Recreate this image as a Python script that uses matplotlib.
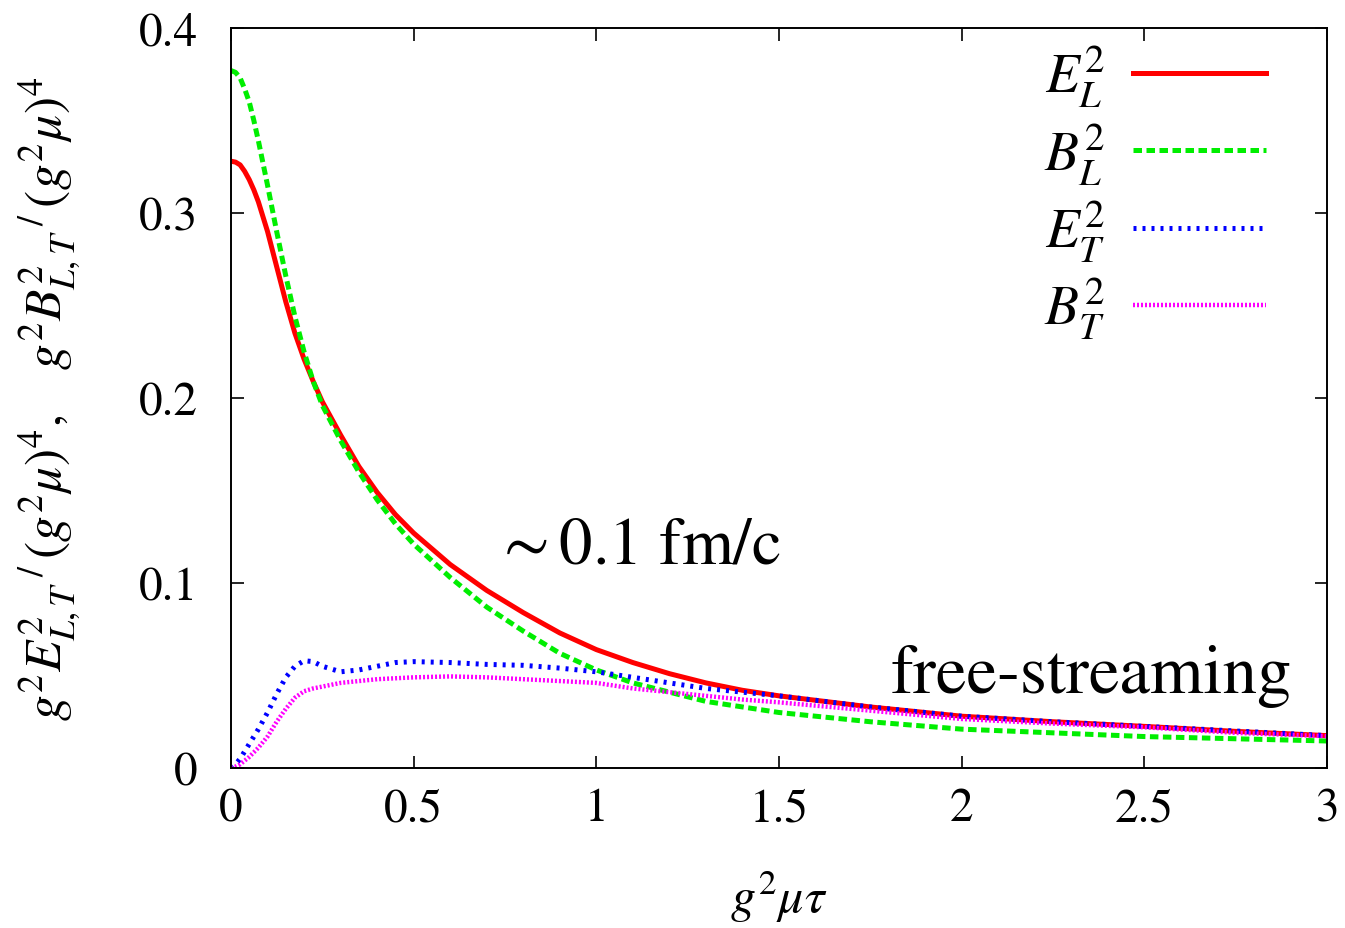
import numpy as np
import matplotlib
matplotlib.use('Agg')
import matplotlib.pyplot as plt
from matplotlib.ticker import FormatStrFormatter, MultipleLocator

plt.rcParams['font.family'] = ['STIXGeneral', 'Liberation Serif', 'DejaVu Serif']
plt.rcParams['mathtext.fontset'] = 'stix'

# g^2 mu tau
tau = [0, 0.0125, 0.025, 0.0375, 0.05, 0.0625, 0.075, 0.0875, 0.1, 0.125, 0.15, 0.175,
       0.2, 0.225, 0.25, 0.3, 0.35, 0.4, 0.45, 0.5, 0.6, 0.7, 0.8, 0.9, 1.0, 1.1, 1.2,
       1.3, 1.4, 1.5, 1.75, 2.0, 2.25, 2.5, 2.75, 3.0]
E_L = [0.328, 0.3275, 0.326, 0.3225, 0.318, 0.3125, 0.306, 0.298, 0.290, 0.271, 0.252,
       0.235, 0.221, 0.209, 0.198, 0.180, 0.163, 0.149, 0.137, 0.127, 0.110, 0.096,
       0.084, 0.073, 0.064, 0.057, 0.051, 0.046, 0.042, 0.039, 0.033, 0.028, 0.025,
       0.0225, 0.0198, 0.0175]
B_L = [0.377, 0.376, 0.373, 0.367, 0.360, 0.350, 0.339, 0.327, 0.315, 0.290, 0.266,
       0.244, 0.225, 0.209, 0.196, 0.177, 0.160, 0.145, 0.132, 0.121, 0.103, 0.087,
       0.074, 0.062, 0.053, 0.046, 0.041, 0.036, 0.033, 0.030, 0.025, 0.021, 0.019,
       0.017, 0.0158, 0.0146]
E_T = [0.0, 0.002, 0.005, 0.009, 0.013, 0.017, 0.021, 0.0255, 0.030, 0.040, 0.049,
       0.055, 0.058, 0.0575, 0.055, 0.052, 0.053, 0.055, 0.057, 0.0575, 0.057, 0.056,
       0.0555, 0.054, 0.052, 0.049, 0.046, 0.043, 0.041, 0.039, 0.033, 0.028, 0.025,
       0.0225, 0.020, 0.0175]
B_T = [0.0, 0.0008, 0.002, 0.004, 0.006, 0.0085, 0.011, 0.014, 0.017, 0.025, 0.032,
       0.038, 0.0415, 0.043, 0.044, 0.046, 0.047, 0.048, 0.0485, 0.049, 0.0495, 0.049,
       0.048, 0.047, 0.046, 0.043, 0.041, 0.039, 0.037, 0.0355, 0.031, 0.0265, 0.024,
       0.022, 0.019, 0.0172]

font = 34
fig = plt.figure(figsize=(13.45, 9.29), dpi=100)
ax = fig.add_axes([231/1345, 1 - 769/929, (1327 - 231)/1345, (769 - 29)/929])

ax.plot(tau, E_L, color='#ff0000', lw=3.6, label=r'$E_L^2$')
ax.plot(tau, B_L, color='#00ee00', lw=3.6, dashes=(1.7, 0.9), label=r'$B_L^2$')
ax.plot(tau, E_T, color='#0000ff', lw=3.6, dashes=(0.6, 1.2), label=r'$E_T^2$')
ax.plot(tau, B_T, color='#ff00ff', lw=3.2, dashes=(0.45, 0.45), label=r'$B_T^2$')

ax.set_xlim(0, 3)
ax.set_ylim(0, 0.4)
ax.xaxis.set_major_locator(MultipleLocator(0.5))
ax.yaxis.set_major_locator(MultipleLocator(0.1))
ax.xaxis.set_major_formatter(FormatStrFormatter('%g'))
ax.yaxis.set_major_formatter(FormatStrFormatter('%g'))
ax.tick_params(direction='in', length=9, width=1.2, top=True, right=True, labelsize=font)
ax.tick_params(axis='x', pad=14)
ax.tick_params(axis='y', pad=24)
for s in ax.spines.values():
    s.set_linewidth(1.4)

ax.set_xlabel(r'$g^2\mu\tau$', fontsize=36, labelpad=28)
ax.set_ylabel(r'$g^2E^2_{L,T}\,{}^{/}\,(g^2\mu)^4,\ \ \ g^2B^2_{L,T}\,{}^{/}\,(g^2\mu)^4$',
              fontsize=37, labelpad=40)

ax.text(0.72, 0.111, r'$\sim$0.1 fm/c', fontsize=48, va='baseline', ha='left')
ax.text(1.805, 0.041, 'free-streaming', fontsize=49.5, va='baseline', ha='left')

ax.legend(loc='upper right', frameon=False, markerfirst=False, fontsize=40,
          handlelength=2.4, labelspacing=0.2, borderaxespad=0.0, handletextpad=0.5,
          bbox_to_anchor=(0.965, 1.01))

fig.savefig('out.png', dpi=100)
